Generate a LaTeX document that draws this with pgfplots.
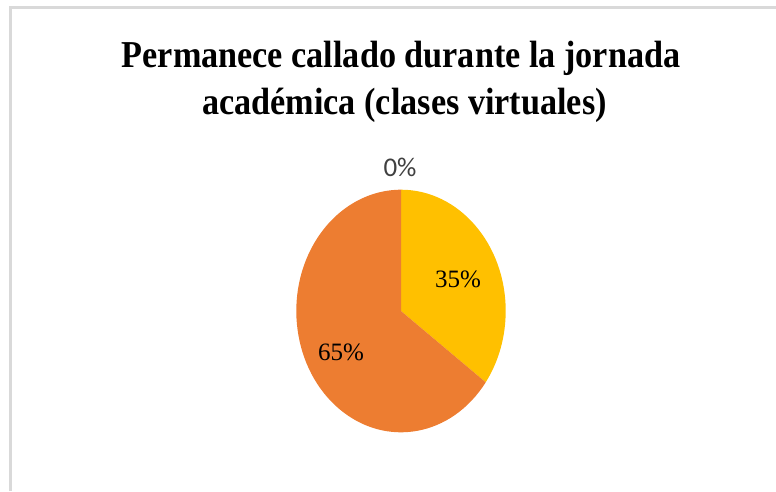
\documentclass[border=0pt]{standalone}
\usepackage{pgfplots}
\pgfplotsset{compat=1.18}
\usepackage{pgfplotstable}
\usepackage{graphicx}
\usepackage{fontspec}
\setmainfont{Liberation Serif}
\newfontfamily\lblfont{Carlito}

\definecolor{pieyellow}{HTML}{FFC000}
\definecolor{pieorange}{HTML}{ED7D31}
\definecolor{framegray}{HTML}{D9D9D9}
\definecolor{lblgray}{HTML}{404040}

% shares in percent, in the order Excel draws them (clockwise from 12 o'clock)
\pgfplotstableread{
share
35
65
0
}\piedata

\begin{document}
\begin{tikzpicture}
\pgfplotstablegetelem{0}{share}\of\piedata \let\sA\pgfplotsretval
\pgfplotstablegetelem{1}{share}\of\piedata \let\sB\pgfplotsretval
\pgfplotstablegetelem{2}{share}\of\piedata \let\sC\pgfplotsretval
\pgfmathsetmacro\angA{90-3.6*\sA}
\pgfmathsetmacro\angB{\angA-3.6*\sB}
% pie centre and radii (axis units = pt)
\def\cx{401}\def\cy{180}\def\rx{104.7}\def\ry{121.3}
\pgfmathsetmacro\pxA{\cx+\rx*cos(\angA)}
\pgfmathsetmacro\pyA{\cy+\ry*sin(\angA)}
\path[use as bounding box] (0,0) rectangle (776pt,491pt);
\begin{axis}[
	at={(0,0)}, anchor=south west,
	width=776pt, height=491pt, scale only axis,
	xmin=0, xmax=776, ymin=0, ymax=491,
	hide axis, clip=false,
]
% frame (left and top edges only are visible)
\draw[framegray, line width=3pt] (axis cs:10.5,0) -- (axis cs:10.5,483.5) -- (axis cs:776,483.5);

% title
\node[anchor=base, font=\bfseries\fontsize{38}{46}\selectfont] at (axis cs:401,423)
	{\scalebox{0.9}[1]{Permanece callado durante la jornada}};
\node[anchor=base, font=\bfseries\fontsize{38}{46}\selectfont] at (axis cs:404.5,376)
	{\scalebox{0.9}[1]{académica (clases virtuales)}};

% pie slices
\fill[pieyellow] (axis cs:\cx,\cy) -- (axis cs:\cx,\cy+\ry)
	arc[start angle=90, end angle=\angA, x radius=\rx pt, y radius=\ry pt] -- cycle;
\fill[pieorange] (axis cs:\cx,\cy) -- (axis cs:\pxA,\pyA)
	arc[start angle=\angA, end angle=\angB, x radius=\rx pt, y radius=\ry pt] -- cycle;

% data labels
\node[anchor=base, font=\fontsize{25}{30}\selectfont] at (axis cs:458,204) {\sA\%};
\node[anchor=base, font=\fontsize{25}{30}\selectfont] at (axis cs:341,131) {\sB\%};
\node[anchor=base, text=lblgray, font=\lblfont\fontsize{27}{32}\selectfont] at (axis cs:400,314) {\sC\%};
\end{axis}
\end{tikzpicture}
\end{document}
